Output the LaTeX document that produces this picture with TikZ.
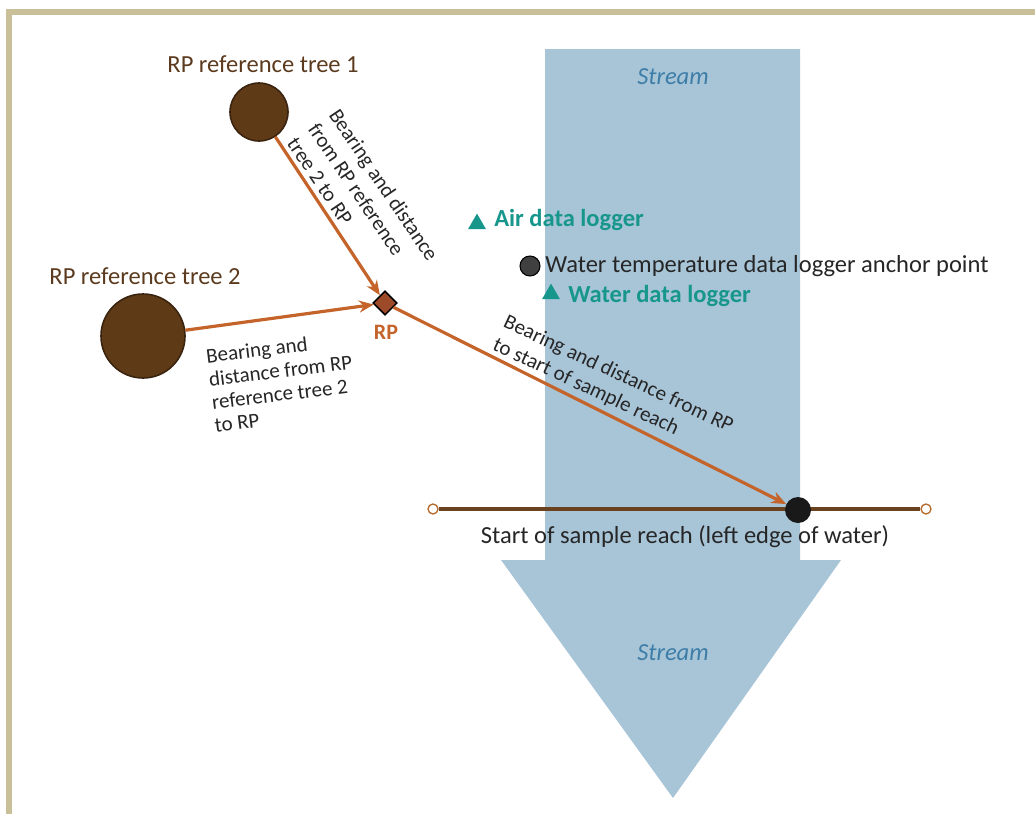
\documentclass[tikz,border=0pt]{standalone}
\usepackage{fontspec}
\setmainfont{Carlito}
\usetikzlibrary{arrows.meta,shapes.geometric}
\definecolor{frame}{HTML}{C9C09A}
\definecolor{water}{HTML}{A8C5D8}
\definecolor{streamtxt}{HTML}{3D7DA8}
\definecolor{bark}{HTML}{5F3A16}
\definecolor{barkdark}{HTML}{3A2410}
\definecolor{treetxt}{HTML}{5B3A1E}
\definecolor{arrowc}{HTML}{C4642A}
\definecolor{rpfill}{HTML}{9C4A28}
\definecolor{teal}{HTML}{17968C}
\definecolor{ink}{HTML}{262626}
\definecolor{reachc}{HTML}{6B4220}
\definecolor{endc}{HTML}{B56A2E}
\tikzset{
  tree/.style={circle, draw=barkdark, line width=1.2pt, fill=bark, inner sep=0pt},
  treelbl/.style={text=treetxt, font=\fontsize{18.4pt}{22pt}\selectfont},
  arr/.style={draw=arrowc, line width=2.4pt, -{Stealth[length=11pt,width=9pt]}},
  bear/.style={text=ink, align=left, inner sep=0pt, font=\fontsize{15.75pt}{19pt}\selectfont},
  maintxt/.style={text=ink, font=\fontsize{18.4pt}{22pt}\selectfont},
  logtxt/.style={text=teal, font=\bfseries\fontsize{18.4pt}{22pt}\selectfont},
  logtri/.style={regular polygon, regular polygon sides=3, fill=teal, inner sep=0pt, minimum size=15.6pt},
  streamlbl/.style={text=streamtxt, font=\itshape\fontsize{18.4pt}{22pt}\selectfont},
  endcirc/.style={circle, draw=endc, line width=1pt, fill=white, inner sep=0pt, minimum size=7.5pt},
}
\begin{document}
\begin{tikzpicture}[x=0.75pt,y=-0.75pt]
\useasboundingbox (0,0) rectangle (1035,814);
% frame
\draw[frame, line width=4.5pt] (6,12) -- (1035,12);
\draw[frame, line width=4.5pt] (9,9.75) -- (9,814);
% stream arrow
\fill[water] (545,49) -- (800,49) -- (800,560) -- (841,560) -- (673,798) -- (501,560) -- (545,560) -- cycle;
\node[streamlbl] (s1) at (673,77) {Stream};
\node[streamlbl] (s2) at (673,653) {Stream};
% trees
\node[tree, minimum size=43.5pt] (t1) at (259,112) {};
\node[treelbl] (t1l) at (263,64) {RP reference tree 1};
\node[tree, minimum size=63pt] (t2) at (143,336) {};
\node[treelbl] (t2l) at (145,276) {RP reference tree 2};
% RP
\node[draw=black, line width=1.1pt, fill=rpfill, rotate=45, minimum size=12.5pt, inner sep=0pt] (rp) at (385,303) {};
\node[text=arrowc, font=\bfseries\fontsize{16.5pt}{18pt}\selectfont] (rpl) at (386,332) {RP};
% sample reach
\node[endcirc] (rl) at (433,509) {};
\node[endcirc] (rr) at (926,509) {};
\draw[reachc, line width=2.4pt] (rl) -- (rr);
\node[circle, fill=black!90, inner sep=0pt, minimum size=19.5pt] (sd) at (798,510) {};
\node[maintxt] (sdl) at (685,537) {Start of sample reach (left edge of water)};
% arrows
\draw[arr] (t1) -- (rp);
\draw[arr] (t2) -- (rp);
\draw[arr] (rp) -- (sd);
% arrow labels
\node[bear, rotate=-56] (b1) at (363,199) {Bearing and distance\\from RP reference\\tree 2 to RP};
\node[bear, rotate=7, font=\fontsize{15.75pt}{17.5pt}\selectfont] (b2) at (282,382) {Bearing and\\distance from RP\\reference tree 2\\to RP};
\node[bear, rotate=-25] (b3) at (613,386) {Bearing and distance from RP\\to start of sample reach};
% loggers
\node[logtri] (air) at (477,224) {};
\node[logtxt, anchor=west, inner sep=0pt] (airl) at (494,220) {Air data logger};
\node[circle, draw=black, line width=0.8pt, fill=black!75, inner sep=0pt, minimum size=15pt] (anc) at (530,266) {};
\node[maintxt, anchor=west, inner sep=0pt] (ancl) at (545,266) {Water temperature data logger anchor point};
\node[logtri] (wat) at (551,294) {};
\node[logtxt, anchor=west, inner sep=0pt] (watl) at (568,296) {Water data logger};
\end{tikzpicture}
\end{document}
